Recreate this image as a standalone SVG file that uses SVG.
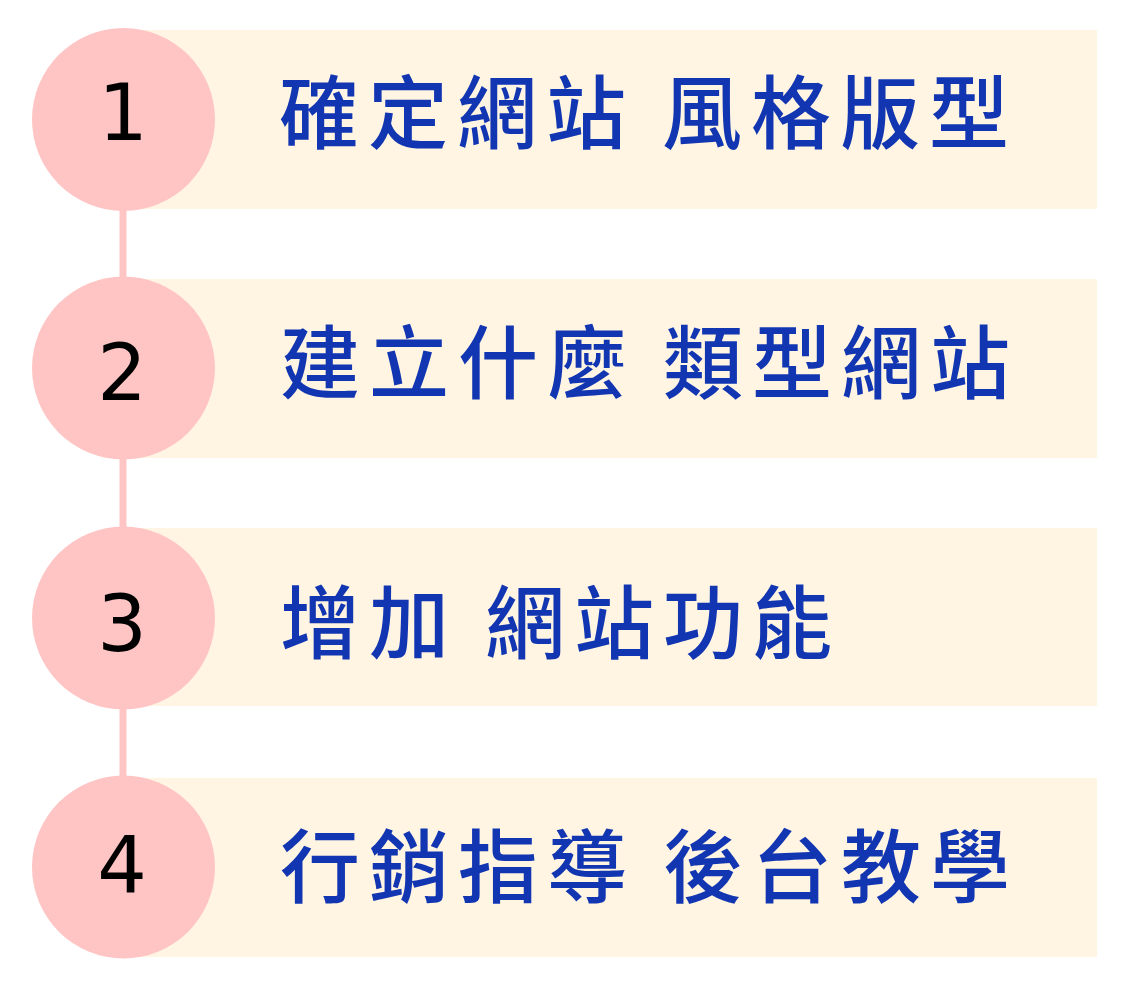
<svg xmlns="http://www.w3.org/2000/svg" width="1139" height="991" viewBox="0 0 1139 991">
  <style>
    .bar { fill: #FFF5E2; }
    .dot { fill: #FFC5C5; }
    .num { font-family: "DejaVu Sans", "Liberation Sans", sans-serif; font-size: 78px; fill: #000000; text-anchor: middle; }
    .lbl { font-family: "Noto Sans CJK TC", "Noto Sans CJK SC", sans-serif; font-size: 80px; font-weight: 500; fill: #1236B2; letter-spacing: 9px; }
    .link { stroke: #FFC5C5; stroke-width: 7; fill: none; }
  </style>
  <rect width="1139" height="991" fill="#FFFFFF"/>
  <g id="connectors">
    <line class="link" x1="123" y1="200" x2="123" y2="290"/>
    <line class="link" x1="123" y1="450" x2="123" y2="540"/>
    <line class="link" x1="123" y1="700" x2="123" y2="790"/>
  </g>
  <g id="step1">
    <rect class="bar" x="123" y="30" width="974" height="179"/>
    <circle class="dot" cx="123.5" cy="119.5" r="91.5"/>
    <text class="num" x="123" y="140">1</text>
    <text class="lbl" x="279" y="142">確定網站 風格版型</text>
  </g>
  <g id="step2">
    <rect class="bar" x="123" y="279" width="974" height="179"/>
    <circle class="dot" cx="123.5" cy="368" r="91.5"/>
    <text class="num" x="122" y="400">2</text>
    <text class="lbl" x="280" y="392">建立什麼 類型網站</text>
  </g>
  <g id="step3">
    <rect class="bar" x="123" y="528" width="974" height="178"/>
    <circle class="dot" cx="123.5" cy="618" r="91.5"/>
    <text class="num" x="122" y="651">3</text>
    <text class="lbl" x="280" y="652">增加 網站功能</text>
  </g>
  <g id="step4">
    <rect class="bar" x="123" y="778" width="974" height="179"/>
    <circle class="dot" cx="123.5" cy="867" r="91.5"/>
    <text class="num" x="122" y="893">4</text>
    <text class="lbl" x="280" y="896">行銷指導 後台教學</text>
  </g>
</svg>
